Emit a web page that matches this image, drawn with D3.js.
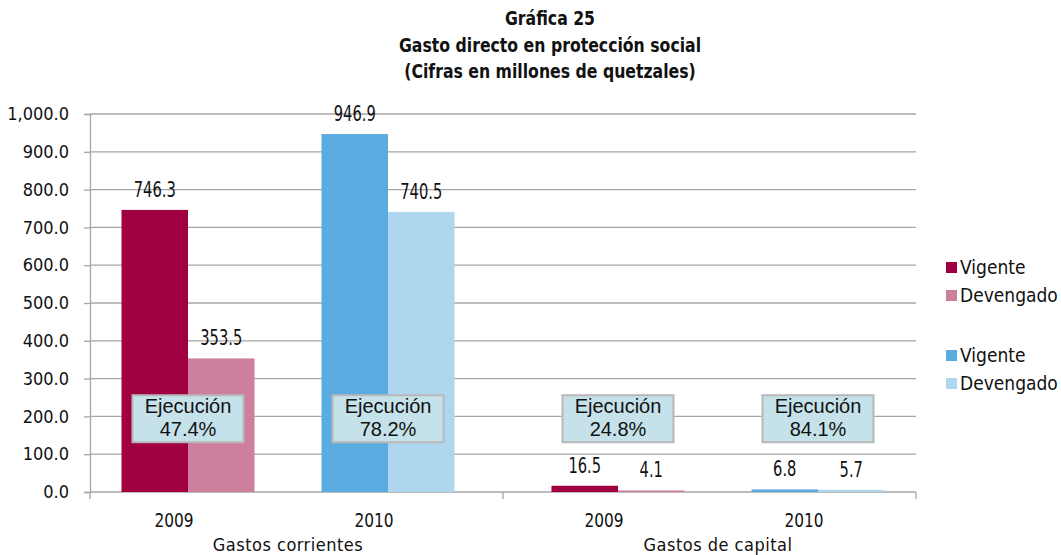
<!DOCTYPE html>
<html>
<head>
<meta charset="utf-8">
<script src="https://cdn.jsdelivr.net/npm/d3@7"></script>
<style>
  body { margin: 0; background: #fff; }
  text { font-family: "DejaVu Sans Condensed", "DejaVu Sans", sans-serif; fill: #111; }
  text.ancho { font-family: "DejaVu Sans", sans-serif; }
  text.box { font-family: "Liberation Sans", Arial, sans-serif; }
</style>
</head>
<body>
<div id="chart"></div>
<script>
const titulo = ["Gráfica 25", "Gasto directo en protección social", "(Cifras en millones de quetzales)"];
const grupos = ["Gastos corrientes", "Gastos de capital"];
const anios = ["2009", "2010"];
const series = ["Vigente", "Devengado"];
const vigente2009 = [746.3, 16.5];
const devengado2009 = [353.5, 4.1];
const vigente2010 = [946.9, 6.8];
const devengado2010 = [740.5, 5.7];
const ejecucion2009 = ["47.4%", "24.8%"];
const ejecucion2010 = ["78.2%", "84.1%"];
const yTicks = [0, 100, 200, 300, 400, 500, 600, 700, 800, 900, 1000];

const colores = {
    "2009": {Vigente: "#a0003f", Devengado: "#cf7f9e"},
    "2010": {Vigente: "#5aabe0", Devengado: "#aed6ef"}
};

const width = 1061, height = 555;
const margin = {top: 114, right: 145, bottom: 63, left: 90};
const innerW = width - margin.left - margin.right;
const innerH = height - margin.top - margin.bottom;

// the original uses a tall narrow font, so squeeze text horizontally
function condensar(sel, sx) {
    sel.attr("class", "ancho")
        .attr("transform", function() {
            const x = +this.getAttribute("x") || 0;
            const y = +this.getAttribute("y") || 0;
            return `translate(${x},${y}) scale(${sx},1)`;
        }).attr("x", 0).attr("y", 0);
}

const svg = d3.select("#chart").append("svg")
    .attr("width", width)
    .attr("height", height);

// title
svg.append("g").selectAll("text")
    .data(titulo)
    .join("text")
    .attr("x", 550)
    .attr("y", (d, i) => 25 + i * 26.5)
    .attr("text-anchor", "middle")
    .style("font-size", "20px")
    .style("font-weight", "bold")
    .text(d => d)
    .call(condensar, 0.786);

const g = svg.append("g").attr("transform", `translate(${margin.left},${margin.top})`);

const x0 = d3.scaleBand().domain(grupos).range([0, innerW]).paddingInner(0.079).paddingOuter(0);
const x1 = d3.scaleBand().domain(anios).range([0, x0.bandwidth()]).paddingInner(0.335).paddingOuter(0.1575);
const x2 = d3.scaleBand().domain(series).range([0, x1.bandwidth()]).padding(0);
const y = d3.scaleLinear().domain([0, 1000]).range([innerH, 0]);

// gridlines
g.append("g")
    .selectAll("line")
    .data(yTicks)
    .join("line")
    .attr("x1", 0)
    .attr("x2", innerW)
    .attr("y1", d => y(d))
    .attr("y2", d => y(d))
    .attr("stroke", "#a6a6a6")
    .attr("stroke-width", 1.3);

// y axis
const yAxis = g.append("g")
    .call(d3.axisLeft(y).tickValues(yTicks).tickSize(6).tickFormat(d3.format(",.1f")));
yAxis.select(".domain").attr("stroke", "#a6a6a6").attr("stroke-width", 1.3);
yAxis.selectAll(".tick line").attr("stroke", "#a6a6a6").attr("stroke-width", 1.3);
yAxis.selectAll(".tick text")
    .attr("x", -21)
    .style("font-size", "18px")
    .style("font-family", null);
yAxis.attr("font-family", null);

// bottom axis ticks at group boundaries
const bordes = [0, innerW / 2, innerW];
g.append("g").selectAll("line")
    .data(bordes)
    .join("line")
    .attr("x1", d => d)
    .attr("x2", d => d)
    .attr("y1", innerH)
    .attr("y2", innerH + 7)
    .attr("stroke", "#a6a6a6")
    .attr("stroke-width", 1.3);

// build bar data
const barras = [];
const cajas = [];
grupos.forEach((gr, i) => {
    const valores = {"2009": [vigente2009[i], devengado2009[i]], "2010": [vigente2010[i], devengado2010[i]]};
    const ejec = {"2009": ejecucion2009[i], "2010": ejecucion2010[i]};
    anios.forEach(a => {
        series.forEach((s, k) => {
            barras.push({grupo: gr, anio: a, serie: s, valor: valores[a][k]});
        });
        cajas.push({grupo: gr, anio: a, texto: ejec[a]});
    });
});

const xBar = d => x0(d.grupo) + x1(d.anio) + x2(d.serie);

g.append("g").selectAll("rect")
    .data(barras)
    .join("rect")
    .attr("x", d => xBar(d))
    .attr("y", d => y(d.valor))
    .attr("width", x2.bandwidth())
    .attr("height", d => innerH - y(d.valor))
    .attr("fill", d => colores[d.anio][d.serie]);

// value labels
g.append("g").selectAll("text")
    .data(barras)
    .join("text")
    .attr("x", d => xBar(d) + x2.bandwidth() / 2)
    .attr("y", d => y(d.valor) - 13)
    .attr("text-anchor", "middle")
    .style("font-size", "21px")
    .text(d => d3.format(".1f")(d.valor))
    .call(condensar, 0.7);

// ejecución boxes
const cajaW = 111, cajaH = 47;
const cg = g.append("g").selectAll("g")
    .data(cajas)
    .join("g")
    .attr("transform", d => `translate(${x0(d.grupo) + x1(d.anio) + x1.bandwidth() / 2},${y(256)})`);

cg.append("rect")
    .attr("x", -cajaW / 2)
    .attr("y", 0)
    .attr("width", cajaW)
    .attr("height", cajaH)
    .attr("fill", "#c5e1ea")
    .attr("stroke", "#b8b8b8")
    .attr("stroke-width", 2);

cg.append("text")
    .attr("class", "box")
    .attr("y", 18)
    .attr("text-anchor", "middle")
    .style("font-size", "20px")
    .text("Ejecución");

cg.append("text")
    .attr("class", "box")
    .attr("y", 41)
    .attr("text-anchor", "middle")
    .style("font-size", "20px")
    .text(d => d.texto);

// year labels
g.append("g").selectAll("text")
    .data(cajas)
    .join("text")
    .attr("x", d => x0(d.grupo) + x1(d.anio) + x1.bandwidth() / 2 - 14)
    .attr("y", innerH + 35)
    .attr("text-anchor", "middle")
    .style("font-size", "19px")
    .text(d => d.anio)
    .call(condensar, 0.81);

// group labels
g.append("g").selectAll("text")
    .data(grupos)
    .join("text")
    .attr("x", d => x0(d) + x0.bandwidth() / 2)
    .attr("y", innerH + 59)
    .attr("text-anchor", "middle")
    .style("font-size", "18px")
    .style("letter-spacing", "0.5px")
    .text(d => d);

// legend
const leyenda = [];
anios.forEach(a => series.forEach(s => leyenda.push({anio: a, serie: s})));
const lg = svg.append("g").selectAll("g")
    .data(leyenda)
    .join("g")
    .attr("transform", (d, i) => `translate(946,${267 + i * 28 + (d.anio === "2010" ? 32 : 0)})`);

lg.append("rect")
    .attr("x", 0)
    .attr("y", -5)
    .attr("width", 11)
    .attr("height", 11)
    .attr("fill", d => colores[d.anio][d.serie]);

lg.append("text")
    .attr("x", 14)
    .attr("y", 7)
    .style("font-size", "19px")
    .text(d => d.serie);
</script>
</body>
</html>
